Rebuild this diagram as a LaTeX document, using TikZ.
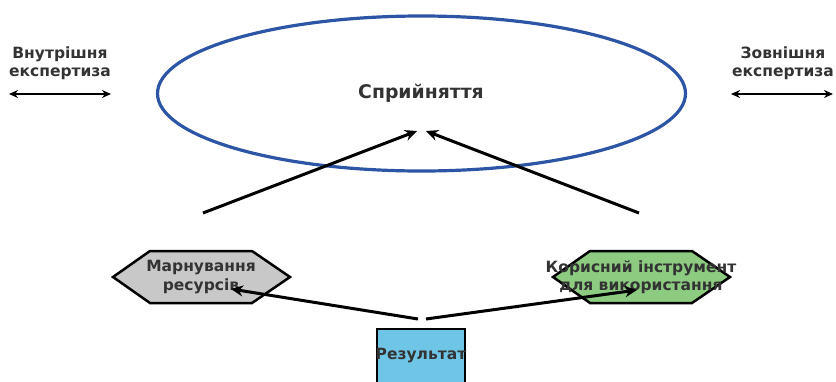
\documentclass[tikz,border=0pt]{standalone}
\usepackage{fontspec}
\setmainfont{DejaVu Sans}
\usetikzlibrary{shapes.geometric,arrows.meta}
\definecolor{txt}{HTML}{333333}
\definecolor{ellblue}{HTML}{2C55A6}
\definecolor{hexgray}{HTML}{C8C8C8}
\definecolor{hexgreen}{HTML}{8CCB80}
\definecolor{resblue}{HTML}{6EC5E6}
\tikzset{
  lbl/.style={font=\fontsize{15.5}{18.5}\selectfont\bfseries, text=txt, align=center, inner sep=0pt},
  conn/.style={line width=3pt, -{Stealth[length=12pt,width=11pt]}},
  dbl/.style={line width=2pt, {Stealth[length=9pt,width=8pt]}-{Stealth[length=9pt,width=8pt]}},
  hexa/.style={draw=black, line width=2.5pt, line join=miter},
}
\begin{document}
\begin{tikzpicture}[x=1pt,y=-1pt]
\useasboundingbox (0,0) rectangle (836,381);
% ellipse
\draw[ellblue, line width=3.2pt] (421.5,93.5) ellipse [x radius=264, y radius=77.5];
\node[lbl, font=\fontsize{18.8}{22}\selectfont\bfseries] (spr) at (421,93) {Сприйняття};
\coordinate (t1) at (417,131);
\coordinate (t2) at (426,131);
\coordinate (s1) at (203,213);
\coordinate (s2) at (639,213);
\draw[conn] (s1) -- (t1);
\draw[conn] (s2) -- (t2);
% side labels
\node[lbl] (vn) at (60,63) {Внутрішня\\експертиза};
\node[lbl] (zv) at (783,63) {Зовнішня\\експертиза};
\coordinate (vl) at (9,94); \coordinate (vr) at (111,94);
\coordinate (zl) at (731,94); \coordinate (zr) at (833,94);
\draw[dbl] (vl) -- (vr);
\draw[dbl] (zl) -- (zr);
% hexagons
\filldraw[hexa, fill=hexgray] (113,277) -- (150,251) -- (252,251) -- (290,277) -- (252,303) -- (150,303) -- cycle;
\node[lbl] (mar) at (201,277) {Марнування\\ресурсів};
\filldraw[hexa, fill=hexgreen] (553,277) -- (590,251) -- (692,251) -- (730,277) -- (692,303) -- (590,303) -- cycle;
\node[lbl] (kor) at (641,277) {Корисний інструмент\\для використання};
% result
\filldraw[draw=black, line width=2.8pt, fill=resblue] (377,329) rectangle (465,385);
\node[lbl] (res) at (421,356) {Результат};
\coordinate (r1) at (418,319);
\coordinate (r2) at (426,319);
\coordinate (e1) at (231,289);
\coordinate (e2) at (637,290);
\draw[conn] (r1) -- (e1);
\draw[conn] (r2) -- (e2);
\end{tikzpicture}
\end{document}
